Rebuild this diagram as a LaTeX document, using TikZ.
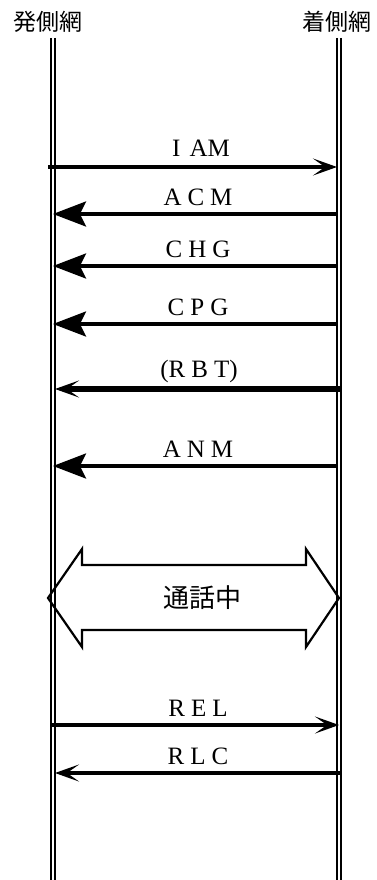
\documentclass[tikz,border=0pt]{standalone}
\usepackage{fontspec}
\setmainfont{Liberation Serif}
\newfontfamily\jpfont{Noto Sans CJK JP}
\usetikzlibrary{arrows.meta}
\newcommand\gp{\hspace{6pt}}
\begin{document}
\begin{tikzpicture}[x=1pt,y=-1pt,
  life/.style={line width=2.2pt},
  msg/.style={line width=3.2pt},
  thickmsg/.style={line width=5.5pt},
  openhead/.style={-{Stealth[length=24pt,width=17pt,inset=12pt]}},
  fillhead/.style={-{Stealth[length=33pt,width=25pt,inset=6pt]}},
  lab/.style={anchor=base,inner sep=0pt,font=\fontsize{25}{29}\selectfont},
  top/.style={inner sep=0pt,font=\jpfont\fontsize{23}{26}\selectfont},
  call/.style={line width=2.2pt,line join=miter}]
\useasboundingbox (0,0) rectangle (376,880);
% headers
\node[top] (hA) at (48,22) {発側網};
\node[top] (hB) at (337,22) {着側網};
% lifelines
\coordinate (a1t) at (51,38); \coordinate (a1b) at (51,880);
\coordinate (a2t) at (55,38); \coordinate (a2b) at (55,880);
\coordinate (b1t) at (337,38); \coordinate (b1b) at (337,880);
\coordinate (b2t) at (341,38); \coordinate (b2b) at (341,880);
\draw[life] (a1t) -- (a1b);
\draw[life] (a2t) -- (a2b);
\draw[life] (b1t) -- (b1b);
\draw[life] (b2t) -- (b2b);
% IAM
\coordinate (iamL) at (48,167); \coordinate (iamR) at (337,167);
\draw[msg,openhead] (iamL) -- (iamR);
\node[lab] (tIAM) at (201,157) {I\hspace{9pt}AM};
% ACM
\coordinate (acmR) at (337,214); \coordinate (acmL) at (53,214);
\draw[msg,fillhead] (acmR) -- (acmL);
\node[lab] (tACM) at (198,205) {A\gp C\gp M};
% CHG
\coordinate (chgR) at (337,266); \coordinate (chgL) at (53,266);
\draw[msg,fillhead] (chgR) -- (chgL);
\node[lab] (tCHG) at (198,257) {C\gp H\gp G};
% CPG
\coordinate (cpgR) at (337,324); \coordinate (cpgL) at (53,324);
\draw[msg,fillhead] (cpgR) -- (cpgL);
\node[lab] (tCPG) at (198,315) {C\gp P\gp G};
% RBT
\coordinate (rbtR) at (341,389); \coordinate (rbtL) at (55,389);
\draw[thickmsg,openhead] (rbtR) -- (rbtL);
\node[lab] (tRBT) at (199,377) {(R\gp B\gp T)};
% ANM
\coordinate (anmR) at (337,466); \coordinate (anmL) at (53,466);
\draw[msg,fillhead] (anmR) -- (anmL);
\node[lab] (tANM) at (198,457) {A\gp N\gp M};
% call in progress
\draw[call] (48,598) -- (82,549) -- (82,565) -- (306,565) -- (306,549) -- (339,598)
  -- (306,647) -- (306,630) -- (82,630) -- (82,647) -- cycle;
\node[inner sep=0pt,font=\jpfont\fontsize{26}{30}\selectfont] (talk) at (202,598) {通話中};
% REL
\coordinate (relL) at (52,725); \coordinate (relR) at (339,725);
\draw[msg,openhead] (relL) -- (relR);
\node[lab] (tREL) at (198,716) {R\gp E\gp L};
% RLC
\coordinate (rlcR) at (340,773); \coordinate (rlcL) at (55,773);
\draw[msg,openhead] (rlcR) -- (rlcL);
\node[lab] (tRLC) at (198,764) {R\gp L\gp C};
\end{tikzpicture}
\end{document}
